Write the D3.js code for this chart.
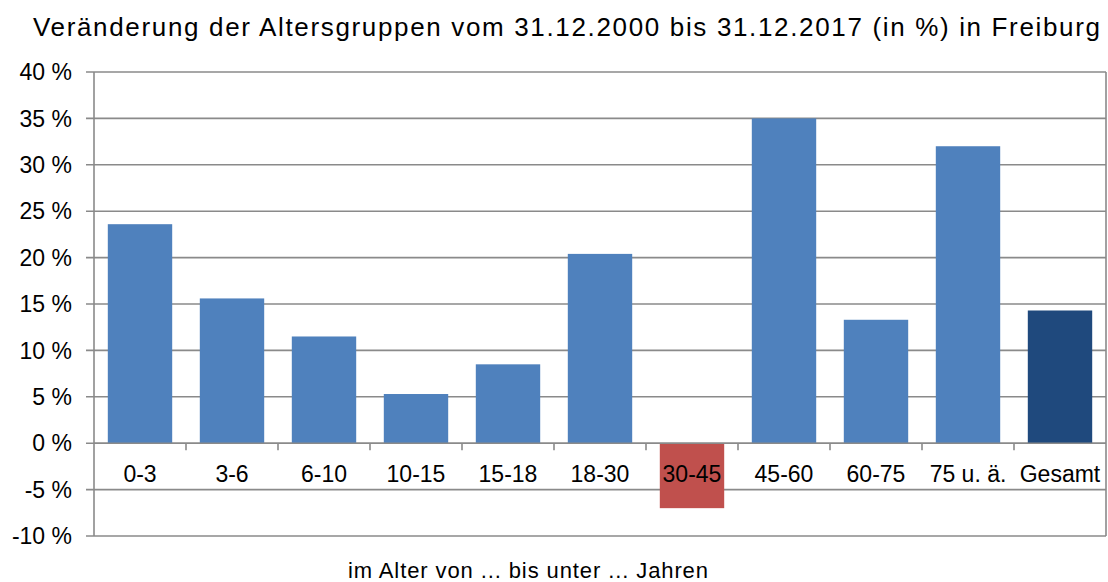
<!DOCTYPE html>
<html><head><meta charset="utf-8">
<script src="https://cdn.jsdelivr.net/npm/d3@7"></script>
<style>body{margin:0;background:#fff}text{font-family:"Liberation Sans",Arial,sans-serif;fill:#000}</style>
</head><body>
<svg id="c" width="1108" height="582"></svg>
<script>
const categories = ["0-3","3-6","6-10","10-15","15-18","18-30","30-45","45-60","60-75","75 u. ä.","Gesamt"];
const values = [23.6,15.6,11.5,5.3,8.5,20.4,-7.0,35.0,13.3,32.0,14.3];
const colors = ["#4F81BD","#4F81BD","#4F81BD","#4F81BD","#4F81BD","#4F81BD","#C0504D","#4F81BD","#4F81BD","#4F81BD","#1F497D"];
const yTicks = [-10,-5,0,5,10,15,20,25,30,35,40];
const title = "Veränderung der Altersgruppen vom 31.12.2000 bis 31.12.2017 (in %) in Freiburg";
const xTitle = "im Alter von ... bis unter ... Jahren";

const svg = d3.select("#c");
const L=94, R=1106, T=72, B=536;
const x = d3.scaleBand().domain(categories).range([L,R]).paddingInner(0.3).paddingOuter(0.15);
const y = d3.scaleLinear().domain([-10,40]).range([B,T]);
const grid="#8a8a8a";

svg.append("g").selectAll("line").data(yTicks).join("line")
  .attr("x1",L-8).attr("x2",R).attr("y1",d=>y(d)).attr("y2",d=>y(d))
  .attr("stroke",grid).attr("stroke-width",1.6);
svg.append("line").attr("x1",L).attr("x2",L).attr("y1",T).attr("y2",B).attr("stroke",grid).attr("stroke-width",1.6);
svg.append("line").attr("x1",R).attr("x2",R).attr("y1",T).attr("y2",B).attr("stroke",grid).attr("stroke-width",1.6);

svg.append("g").selectAll("rect").data(values).join("rect")
  .attr("x",(d,i)=>x(categories[i]))
  .attr("width",x.bandwidth())
  .attr("y",d=>y(Math.max(0,d)))
  .attr("height",d=>Math.abs(y(d)-y(0)))
  .attr("fill",(d,i)=>colors[i]);

const step = x.step();
const bounds = d3.range(1,categories.length).map(i=>x(categories[i]) - (step-x.bandwidth())/2);
svg.append("g").selectAll("line").data(bounds).join("line")
  .attr("x1",d=>d).attr("x2",d=>d).attr("y1",y(0)).attr("y2",y(0)+7)
  .attr("stroke",grid).attr("stroke-width",1.6);
svg.append("line").attr("x1",L).attr("x2",R).attr("y1",y(0)).attr("y2",y(0)).attr("stroke",grid).attr("stroke-width",1.6);

svg.append("g").selectAll("text").data(yTicks).join("text")
  .attr("x",72).attr("y",d=>y(d)).attr("dy","0.36em").attr("text-anchor","end")
  .attr("font-size",23).text(d=>d+" %");
svg.append("g").selectAll("text").data(categories).join("text")
  .attr("x",d=>x(d)+x.bandwidth()/2).attr("y",482).attr("text-anchor","middle")
  .attr("font-size",23).text(d=>d);
svg.append("text").attr("x",33).attr("y",36).attr("font-size",26)
  .attr("textLength",1067).attr("lengthAdjust","spacing").text(title);
svg.append("text").attr("x",348).attr("y",578).attr("font-size",22)
  .attr("textLength",360).attr("lengthAdjust","spacing").text(xTitle);
</script>
</body></html>
